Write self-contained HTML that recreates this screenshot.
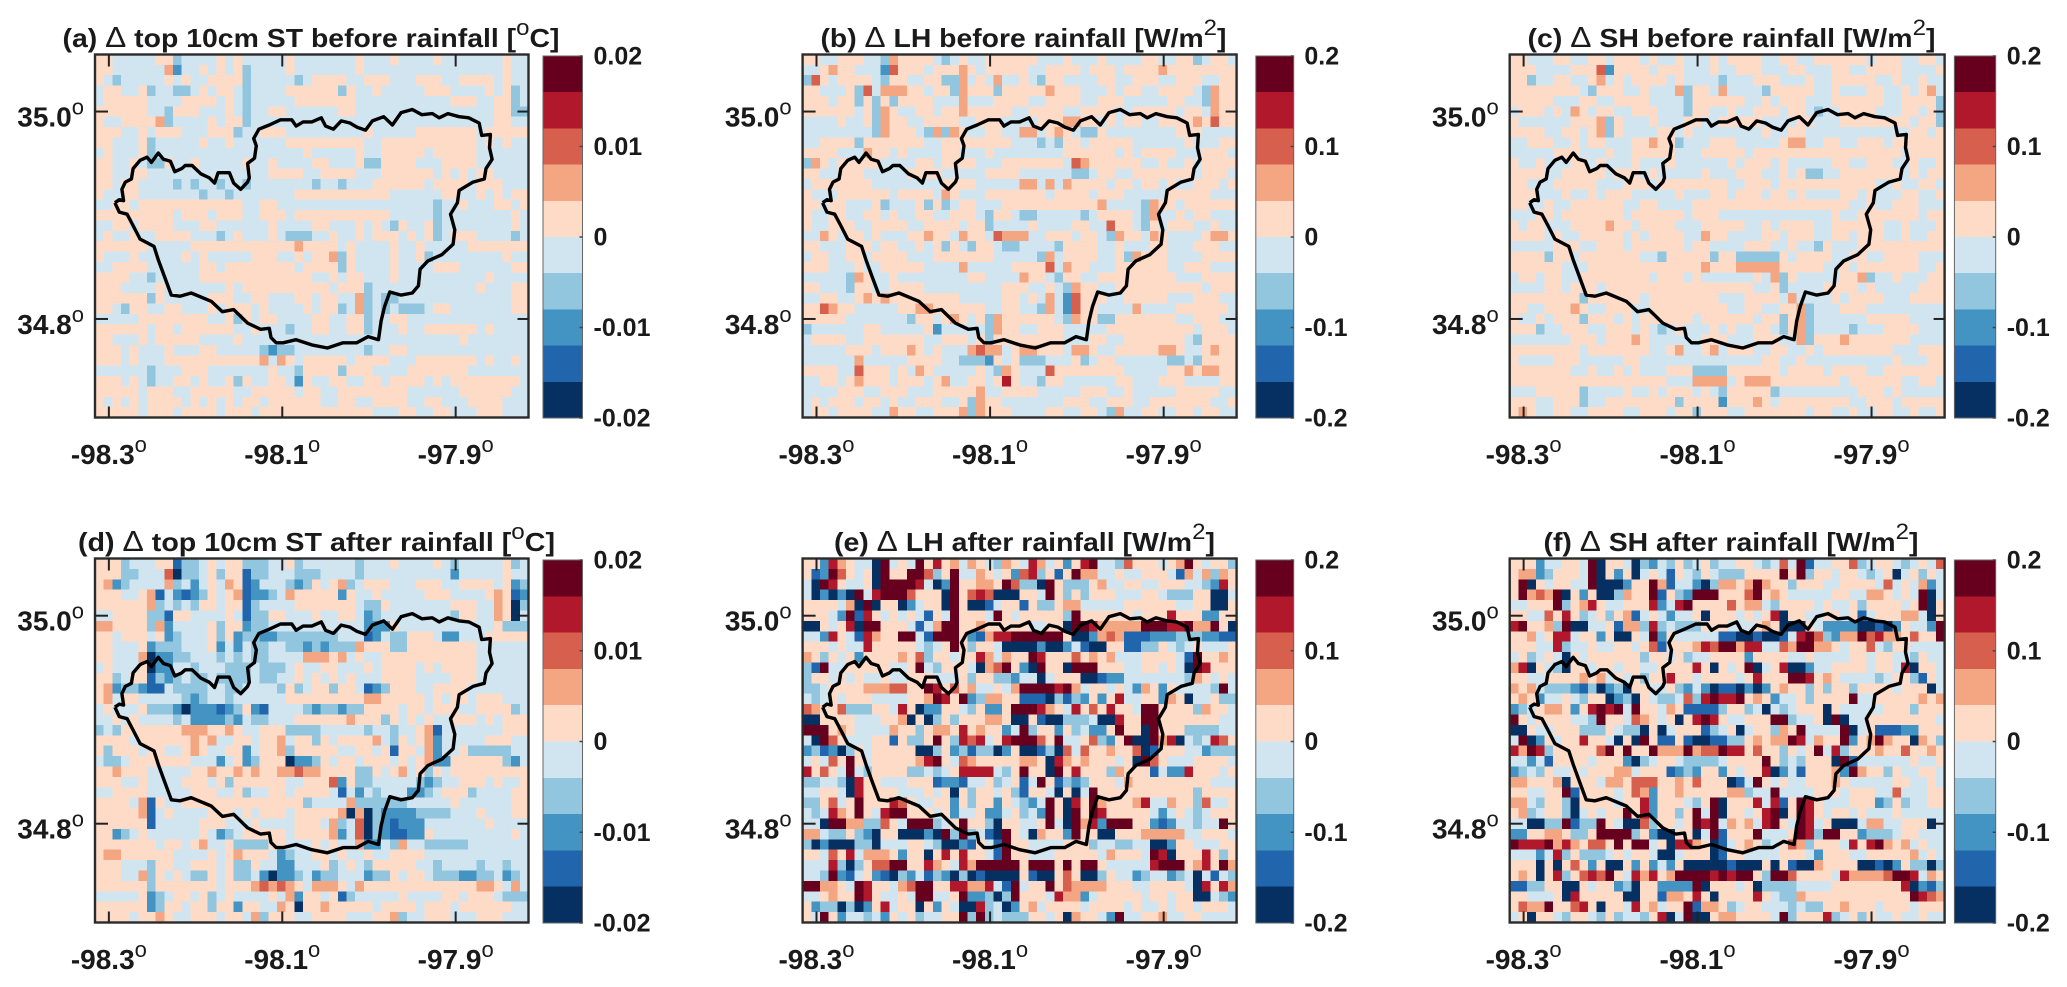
<!DOCTYPE html>
<html lang="en">
<head>
<meta charset="utf-8">
<title>Delta soil temperature and heat flux maps</title>
<style>
html,body{margin:0;padding:0;background:#fff;}
svg{display:block;}
text{font-family:"Liberation Sans",Arial,sans-serif;font-weight:bold;fill:#1a1a1a;}
.title{font-size:26px;}
.tick{font-size:28px;}
.cb{font-size:25px;}
.sup{font-size:22px;font-weight:normal;}
.delta{font-size:29px;font-weight:normal;}
</style>
</head>
<body>
<svg id="figure" xmlns="http://www.w3.org/2000/svg" width="2067" height="987" viewBox="0 0 2067 987">
<rect width="2067" height="987" fill="#fff"/>
<g id="marks"></g>
<text class="title" x="62.5" y="47" textLength="497" lengthAdjust="spacingAndGlyphs">(a) <tspan class="delta">Δ</tspan> top 10cm ST before rainfall [<tspan class="sup" dy="-12">o</tspan><tspan dy="12">C]</tspan></text>
<text class="title" x="820.5" y="47" textLength="406" lengthAdjust="spacingAndGlyphs">(b) <tspan class="delta">Δ</tspan> LH before rainfall [W/m<tspan class="sup" dy="-12">2</tspan><tspan dy="12">]</tspan></text>
<text class="title" x="1527.5" y="47" textLength="408" lengthAdjust="spacingAndGlyphs">(c) <tspan class="delta">Δ</tspan> SH before rainfall  [W/m<tspan class="sup" dy="-12">2</tspan><tspan dy="12">]</tspan></text>
<text class="title" x="78" y="551" textLength="477" lengthAdjust="spacingAndGlyphs">(d) <tspan class="delta">Δ</tspan> top 10cm ST after rainfall  [<tspan class="sup" dy="-12">o</tspan><tspan dy="12">C]</tspan></text>
<text class="title" x="834" y="551" textLength="381" lengthAdjust="spacingAndGlyphs">(e) <tspan class="delta">Δ</tspan> LH after rainfall  [W/m<tspan class="sup" dy="-12">2</tspan><tspan dy="12">]</tspan></text>
<text class="title" x="1543.5" y="551" textLength="375" lengthAdjust="spacingAndGlyphs">(f) <tspan class="delta">Δ</tspan> SH after rainfall [W/m<tspan class="sup" dy="-12">2</tspan><tspan dy="12">]</tspan></text>
</svg>
<script>
// Axis tick labels
const lonTicks = [-98.3, -98.1, -97.9];
const latTicks = [35.0, 34.8];
const stBarLabels = ["0.02", "0.01", "0", "-0.01", "-0.02"];
const fluxBarLabels = ["0.2", "0.1", "0", "-0.1", "-0.2"];
const barLabelValues = [1, 0.5, 0, -0.5, -1];
// Catchment boundary (degrees)
const outlineLon = [-98.293,-98.288,-98.283,-98.285,-98.281,-98.274,-98.272,-98.264,-98.256,-98.251,-98.243,-98.237,-98.229,-98.224,-98.216,-98.212,-98.204,-98.194,-98.184,-98.178,-98.174,-98.161,-98.156,-98.148,-98.140,-98.138,-98.140,-98.132,-98.130,-98.133,-98.127,-98.115,-98.102,-98.089,-98.084,-98.076,-98.066,-98.055,-98.050,-98.041,-98.032,-98.022,-98.014,-98.004,-97.996,-97.983,-97.973,-97.963,-97.950,-97.939,-97.927,-97.919,-97.909,-97.896,-97.885,-97.873,-97.870,-97.860,-97.861,-97.858,-97.865,-97.867,-97.880,-97.896,-97.898,-97.906,-97.901,-97.903,-97.916,-97.932,-97.941,-97.943,-97.950,-97.963,-97.976,-97.982,-97.986,-97.989,-98.001,-98.014,-98.030,-98.048,-98.066,-98.084,-98.099,-98.107,-98.113,-98.115,-98.125,-98.140,-98.156,-98.169,-98.182,-98.205,-98.218,-98.228,-98.236,-98.243,-98.248,-98.264,-98.272,-98.279,-98.288,-98.293];
const outlineLat = [34.912,34.915,34.914,34.925,34.932,34.935,34.945,34.953,34.956,34.951,34.960,34.954,34.952,34.942,34.945,34.948,34.948,34.940,34.936,34.931,34.941,34.941,34.931,34.925,34.932,34.936,34.950,34.955,34.967,34.974,34.983,34.987,34.992,34.992,34.986,34.990,34.990,34.994,34.986,34.983,34.991,34.989,34.985,34.982,34.991,34.995,34.987,34.999,35.002,34.997,34.998,34.994,34.998,34.995,34.994,34.989,34.977,34.978,34.965,34.954,34.945,34.935,34.932,34.924,34.912,34.901,34.886,34.872,34.862,34.856,34.848,34.832,34.825,34.823,34.826,34.812,34.798,34.780,34.783,34.777,34.777,34.772,34.775,34.780,34.777,34.777,34.782,34.791,34.790,34.796,34.809,34.807,34.817,34.825,34.822,34.823,34.841,34.857,34.870,34.877,34.890,34.901,34.903,34.912];
// Cell values as colour-bin index: 0 = lowest bin ... 4,5 either side of zero ... 9 = highest bin
const stBefore = [
[5,5,4,4,4,4,4,5,5,3,4,4,4,4,5,4,5,4,4,4,4,4,5,4,4,4,4,4,4,4,5,4,4,4,5,4,4,4,4,5,4,4,4,4,4,4,4,5,4,4],
[5,5,4,4,4,4,4,4,6,2,4,4,5,4,5,4,5,3,4,4,4,4,5,4,4,4,4,4,4,4,5,4,4,4,4,4,4,4,4,4,4,4,4,4,4,4,4,5,4,4],
[5,4,3,4,4,4,4,4,5,4,5,4,4,5,5,5,5,3,4,4,4,4,4,3,4,5,5,5,5,4,4,5,5,5,4,4,4,5,5,5,4,4,5,5,5,5,4,5,4,4],
[4,5,5,4,4,5,3,4,4,3,3,4,5,4,5,5,4,3,4,4,4,4,5,5,5,5,5,5,3,5,4,4,5,4,4,4,4,4,5,5,5,4,4,4,4,5,4,5,3,4],
[4,5,5,5,5,5,4,4,4,4,5,5,5,5,4,5,4,3,4,4,4,4,4,5,5,5,5,5,5,5,4,4,4,4,4,4,4,4,4,4,4,5,5,5,4,4,5,5,3,4],
[5,5,5,5,5,5,4,4,3,5,5,5,4,4,4,5,4,3,4,4,5,5,4,4,4,4,4,4,5,5,4,4,4,4,4,4,4,4,4,4,4,4,4,4,4,4,5,5,3,3],
[5,4,4,5,5,5,5,6,3,4,4,4,4,5,4,5,5,3,4,4,4,4,4,4,4,4,4,4,4,4,4,4,4,4,4,4,4,4,4,4,4,4,4,4,4,4,5,5,4,4],
[5,5,5,4,4,5,4,5,5,5,4,4,4,5,5,5,3,4,4,5,5,5,4,4,4,4,4,4,4,4,4,5,4,4,4,4,4,5,5,5,5,5,5,5,4,5,5,5,5,5],
[5,5,4,4,4,5,3,4,4,4,4,4,5,4,4,5,4,4,4,4,4,4,5,5,5,5,5,5,5,5,5,4,4,5,5,5,5,5,5,5,5,5,5,5,4,5,4,5,4,4],
[4,5,4,4,4,5,3,4,4,4,4,4,4,4,4,4,4,4,4,4,4,4,4,4,5,4,4,4,4,4,5,4,4,5,5,5,5,5,4,5,5,5,5,5,4,4,4,4,4,4],
[5,5,4,4,5,4,3,3,5,4,4,5,4,4,4,4,4,5,4,4,5,4,4,4,4,5,5,4,4,4,5,3,3,5,5,5,5,4,4,4,5,5,5,5,4,4,4,4,4,4],
[5,5,4,4,5,5,4,4,4,4,4,4,4,4,4,4,4,4,4,4,5,5,5,5,4,4,5,5,5,5,4,4,4,5,5,5,5,5,5,4,5,4,5,4,5,5,4,4,4,4],
[5,5,4,5,5,4,4,4,4,3,4,3,4,4,3,4,4,3,4,4,4,4,4,4,4,3,4,4,3,4,4,4,5,5,5,5,5,5,4,5,5,5,5,4,5,5,5,4,4,4],
[5,4,4,5,5,4,4,4,4,4,4,4,3,4,4,3,4,4,4,4,4,4,4,5,5,5,5,5,5,5,5,5,5,5,4,4,4,4,4,4,5,5,4,4,5,4,5,4,5,5],
[4,4,5,5,4,5,5,5,5,5,5,5,5,5,5,5,5,4,4,5,5,4,4,4,4,4,4,4,4,4,4,4,4,4,4,4,4,4,4,3,4,4,5,4,4,4,5,5,4,5],
[5,5,5,5,5,5,5,5,5,4,5,5,5,4,5,5,5,4,4,5,5,5,4,5,5,5,5,5,5,5,5,5,5,5,4,4,4,4,4,3,4,4,4,4,4,4,4,4,5,4],
[4,4,5,5,4,5,5,5,5,4,4,4,5,5,4,4,4,4,4,4,5,4,4,4,4,5,5,4,4,4,5,4,5,4,3,5,4,4,5,3,4,4,4,4,4,4,4,4,5,4],
[4,5,4,4,5,4,4,5,5,5,5,4,4,4,3,4,5,4,4,4,5,4,3,3,3,4,4,5,4,4,5,4,5,5,5,4,5,4,5,3,4,5,5,5,4,4,4,4,3,4],
[5,5,5,5,5,5,4,4,4,4,4,5,5,5,5,5,5,5,5,5,5,5,5,6,5,5,5,5,4,5,4,4,4,4,5,4,4,5,4,4,4,4,4,5,5,5,5,5,5,5],
[5,4,4,4,5,4,4,4,4,4,5,4,5,4,4,4,4,4,5,5,5,4,4,5,4,5,5,6,3,5,4,4,4,4,5,4,4,5,3,4,4,4,4,4,4,4,4,5,4,4],
[4,4,5,5,5,5,4,4,4,4,4,4,5,5,4,5,5,5,5,5,5,5,5,4,5,5,5,5,3,5,4,4,4,4,5,4,4,4,4,5,5,5,4,4,4,4,4,4,5,5],
[5,5,5,5,4,4,3,4,4,4,4,4,5,5,5,5,5,5,5,5,5,5,5,5,5,4,4,5,4,5,5,4,4,4,5,4,4,4,4,4,4,4,4,4,4,5,4,4,4,4],
[5,5,5,4,4,4,4,5,4,4,4,4,4,4,4,5,4,5,5,5,5,5,5,5,5,5,5,4,5,5,5,3,4,4,4,4,4,4,4,4,4,4,4,4,5,4,4,4,5,5],
[5,5,5,5,5,5,3,5,4,4,4,4,4,5,5,5,4,4,5,5,4,4,4,5,5,4,5,5,4,4,6,3,4,3,3,4,4,4,4,4,4,4,4,4,4,4,4,4,5,5],
[5,5,4,3,5,5,4,4,5,5,4,4,4,5,4,5,5,5,4,5,4,4,4,4,5,4,5,5,3,4,6,3,4,3,4,3,3,3,4,5,5,4,4,4,4,4,4,4,5,5],
[4,4,4,4,4,5,5,5,5,5,5,5,5,4,4,5,3,5,4,5,5,4,4,4,4,5,5,4,4,5,5,3,4,4,5,5,4,4,4,4,4,4,4,4,4,4,4,4,4,4],
[5,5,5,5,5,5,4,5,5,4,5,5,5,5,5,5,4,4,5,4,4,4,3,4,4,5,5,4,4,5,5,3,4,4,4,5,4,4,5,5,5,5,5,5,4,5,4,4,4,4],
[5,5,4,4,4,5,4,5,5,5,5,5,4,4,4,4,5,4,4,4,4,4,4,4,4,4,4,4,4,4,4,4,4,4,4,4,4,4,4,4,4,4,5,4,4,4,4,4,4,4],
[5,5,5,4,5,4,4,4,5,4,4,4,5,5,4,4,4,4,4,3,2,3,3,4,4,4,4,4,4,4,4,3,4,4,5,5,4,4,4,4,4,4,4,4,4,4,4,4,4,4],
[5,5,5,4,5,4,4,4,5,5,5,5,5,5,5,5,5,5,5,6,4,6,5,4,5,5,5,5,5,4,5,5,5,5,4,4,4,5,5,5,5,5,5,5,4,5,4,4,5,4],
[4,4,4,4,4,4,3,4,4,4,5,5,5,4,4,4,4,4,4,4,5,4,4,3,5,5,5,5,3,5,5,5,4,4,4,4,5,5,5,5,5,5,5,4,4,4,4,4,4,4],
[5,5,5,4,5,4,3,4,4,5,5,4,5,4,4,5,3,5,4,4,5,5,4,2,5,4,4,5,5,4,4,5,5,4,5,5,5,5,4,5,4,5,5,5,5,5,5,5,5,4],
[5,5,5,5,5,4,5,5,5,4,4,5,5,5,5,5,4,4,5,5,5,5,5,4,5,5,4,4,5,5,5,5,5,5,5,5,4,4,4,4,4,4,5,5,5,5,5,5,4,4],
[5,4,5,4,5,4,5,5,5,5,4,5,4,5,4,5,4,5,5,4,5,5,5,5,5,5,4,4,5,5,4,4,5,5,5,5,4,4,5,5,4,4,4,5,5,5,5,4,4,4],
[5,5,5,5,5,4,5,5,5,4,5,5,5,5,4,5,5,5,4,5,5,5,5,5,5,5,5,5,5,5,5,5,4,4,4,5,5,4,4,5,5,4,4,4,5,5,5,4,4,4]
];
const lhBefore = [
[5,5,4,4,5,5,5,4,4,3,6,5,5,5,5,4,3,4,5,4,4,5,5,5,5,5,5,4,4,4,5,4,4,4,5,4,4,4,4,5,5,4,4,5,5,3,4,5,5,4],
[4,4,5,6,5,5,4,4,4,2,7,5,5,5,4,5,5,5,6,5,4,5,5,5,5,5,4,4,5,5,5,5,4,5,5,5,4,5,5,5,5,6,5,5,5,5,5,5,5,5],
[3,7,5,4,5,5,5,5,4,3,5,5,4,4,5,5,3,3,6,4,5,4,6,4,4,5,4,3,5,5,4,4,4,4,5,5,4,4,5,5,5,4,4,5,5,5,4,4,5,5],
[5,5,4,4,4,5,3,7,4,6,6,6,5,5,4,5,5,3,6,5,5,5,3,5,5,5,5,5,6,5,5,5,4,4,4,5,4,5,5,4,4,5,5,5,5,4,3,6,5,5],
[5,5,5,4,5,5,3,5,3,5,3,5,5,5,5,4,4,4,6,4,4,4,5,5,5,5,4,4,5,5,5,5,4,4,5,5,5,4,4,4,4,4,5,5,4,4,3,6,5,5],
[5,5,5,5,5,5,4,5,3,6,5,4,4,5,5,4,5,5,6,5,5,5,5,5,4,4,5,5,5,5,4,4,5,5,5,5,4,4,5,5,5,5,5,4,5,5,4,6,5,5],
[4,4,4,4,5,4,4,5,3,6,5,5,4,4,5,5,5,5,4,4,5,5,5,4,4,4,4,5,5,5,6,6,5,5,4,5,4,5,5,4,4,5,5,5,5,6,5,7,5,5],
[4,4,4,4,4,4,4,4,3,6,5,5,5,4,3,6,3,6,5,4,4,5,5,4,4,6,6,4,5,6,5,4,3,3,5,4,4,4,4,4,4,4,4,5,5,5,4,4,4,4],
[4,4,5,5,5,5,3,5,5,5,5,5,5,5,4,4,5,5,5,5,5,5,5,5,4,4,4,3,4,3,5,5,4,5,5,5,5,5,4,4,4,4,4,4,5,4,4,4,5,5],
[5,5,5,5,4,4,4,6,5,5,4,5,4,4,4,4,5,5,4,4,4,5,4,4,4,4,4,4,4,4,5,5,5,5,5,5,4,5,4,5,5,5,5,4,4,4,5,5,5,4],
[3,6,5,4,5,5,5,5,5,4,4,4,4,5,5,4,5,5,5,5,4,4,4,5,5,5,5,5,5,5,4,7,6,5,5,5,5,5,5,4,4,5,4,4,5,4,5,5,5,5],
[5,5,4,4,5,5,5,4,4,4,4,4,5,5,5,5,4,4,4,4,4,5,5,5,5,4,4,4,4,4,4,3,3,4,5,5,4,4,5,5,5,5,5,5,5,4,5,5,5,4],
[4,5,5,5,5,5,5,5,4,4,4,4,4,4,4,4,5,5,5,5,4,4,4,4,4,6,6,4,6,4,6,5,5,5,5,4,5,5,4,5,5,4,5,4,4,5,5,5,4,5],
[5,4,4,4,5,5,5,5,5,5,4,5,5,5,5,4,6,5,4,4,4,5,5,5,5,5,5,5,4,5,5,5,5,4,5,5,5,4,4,4,4,4,5,5,5,5,5,4,4,4],
[5,5,4,5,5,4,4,4,5,3,4,4,4,5,3,5,3,4,5,5,4,4,4,5,5,5,5,5,5,5,5,5,5,5,6,4,4,4,4,3,6,5,5,4,5,5,5,5,5,5],
[5,4,4,5,5,4,4,5,5,4,5,4,4,5,5,4,4,5,5,5,4,3,5,5,4,3,3,4,4,4,4,4,3,4,5,5,5,5,4,3,6,4,4,5,4,5,5,4,4,4],
[5,4,4,5,5,5,4,4,5,5,5,5,4,4,5,5,5,5,4,5,5,3,4,4,4,4,5,4,4,4,4,5,5,4,4,7,5,5,4,3,5,4,5,5,5,4,4,5,4,4],
[4,4,6,5,4,5,5,4,5,4,4,4,5,5,6,5,5,4,6,5,5,4,7,6,6,6,4,4,5,5,5,4,5,5,4,3,6,5,5,4,6,5,4,4,4,4,5,6,6,5],
[5,5,4,4,4,5,5,5,4,5,5,4,4,5,4,5,3,5,4,3,5,5,4,3,3,4,4,4,4,3,5,5,5,5,4,4,5,4,4,4,5,5,4,4,4,5,5,5,4,4],
[4,5,5,4,4,5,5,4,5,5,5,5,4,4,4,5,5,5,5,5,5,5,4,4,4,4,4,3,6,4,5,5,5,5,4,4,5,3,6,5,5,5,4,4,4,4,5,5,5,5],
[5,5,5,4,4,4,5,4,4,5,5,5,5,5,4,4,4,4,6,4,4,4,4,4,5,5,5,5,7,4,6,5,5,4,4,4,5,5,5,5,5,5,4,4,5,5,5,4,4,4],
[4,4,4,4,4,3,6,5,4,4,5,4,4,4,4,4,4,4,4,5,5,4,4,4,4,6,5,5,4,3,5,5,4,4,5,5,5,5,5,5,5,5,5,4,4,4,5,5,5,5],
[5,5,4,4,4,3,5,5,4,4,5,5,5,5,4,4,4,4,4,4,4,4,4,5,5,5,4,4,5,4,3,6,5,5,4,4,5,5,5,5,5,5,5,5,5,5,4,5,5,5],
[4,4,5,5,4,4,5,6,5,6,5,5,5,5,5,5,5,5,4,4,4,4,4,5,5,4,5,4,6,4,2,7,5,5,5,4,4,5,5,5,5,5,4,4,4,5,5,5,4,4],
[5,5,7,6,5,5,4,4,4,4,4,5,5,6,6,5,5,5,5,5,5,4,4,5,5,4,4,3,6,4,2,7,5,5,4,4,4,4,6,4,4,4,4,5,5,5,5,5,5,4],
[5,5,5,5,5,4,4,4,4,4,4,4,3,5,5,4,5,6,5,4,5,3,6,5,5,5,5,5,5,4,3,6,5,5,3,3,5,5,5,5,5,5,5,4,4,5,5,5,4,4],
[3,4,4,4,4,4,4,5,5,4,4,4,4,4,5,2,4,4,4,4,4,3,6,5,5,4,4,5,5,5,4,4,4,4,4,5,5,5,5,5,5,5,5,5,5,4,5,5,5,4],
[4,5,5,5,5,4,4,5,5,5,5,5,5,5,4,4,5,5,5,4,5,3,5,5,5,5,5,5,5,5,4,4,4,5,5,4,4,5,5,5,5,5,5,5,4,3,5,5,5,5],
[4,4,4,4,4,5,5,5,4,5,5,5,6,5,4,5,4,4,4,6,7,6,6,4,5,6,6,5,5,5,4,6,6,5,4,4,5,5,5,5,5,6,6,5,4,4,5,6,5,5],
[4,4,4,4,4,4,6,4,4,4,4,4,5,5,5,5,4,4,3,3,3,2,5,4,5,3,3,3,4,4,4,5,3,4,5,5,4,4,4,4,4,4,3,3,4,3,5,5,5,5],
[5,5,5,5,4,4,7,5,5,5,4,5,4,6,5,4,4,4,4,4,5,4,3,6,5,4,4,4,7,5,5,5,5,5,5,5,5,4,4,4,4,4,5,5,6,5,6,6,5,5],
[4,4,5,5,4,5,6,5,5,5,4,5,5,5,4,5,6,4,4,5,5,4,5,8,5,4,4,3,5,5,4,4,4,4,4,4,5,5,4,4,4,5,5,5,4,4,4,4,5,5],
[4,4,4,4,5,5,5,4,4,5,5,5,4,4,4,5,5,5,5,5,6,4,4,5,5,5,5,4,4,4,4,4,5,5,5,4,4,5,4,4,4,4,4,5,5,5,5,5,4,4],
[4,5,4,5,5,5,4,5,5,4,5,4,4,5,5,5,4,4,5,3,6,5,5,4,4,4,4,4,4,4,5,5,5,4,4,5,5,5,4,4,5,5,5,5,5,5,5,4,4,5],
[4,5,5,4,5,5,5,5,4,4,6,5,5,4,4,5,5,5,6,3,6,5,5,5,4,4,4,4,5,5,4,4,5,5,4,3,6,4,4,5,5,4,4,5,5,4,5,5,4,4]
];
const shBefore = [
[5,5,4,4,4,5,5,4,4,5,5,4,5,5,5,4,5,4,4,5,4,4,4,5,4,5,5,5,5,4,4,5,5,4,4,5,5,5,5,5,5,4,5,5,5,4,4,5,5,4],
[5,5,5,4,4,4,4,5,5,5,7,2,5,5,5,5,4,5,5,5,4,4,4,5,4,4,5,5,5,4,4,4,5,5,4,4,4,5,5,4,4,5,5,5,5,4,4,4,4,5],
[5,5,3,4,4,5,5,4,4,5,6,4,5,4,5,5,5,5,4,5,4,4,4,4,3,4,4,4,5,5,5,4,4,4,5,4,4,5,5,5,5,5,4,4,5,4,4,5,4,4],
[5,5,5,5,5,5,5,5,4,3,5,5,5,4,4,5,4,4,4,6,3,5,5,4,6,4,4,4,4,3,5,5,5,5,5,4,4,5,4,4,4,5,5,4,4,5,4,5,6,4],
[5,5,5,5,5,4,4,4,5,5,4,4,5,5,5,5,4,4,4,4,3,5,5,5,5,5,5,4,4,5,4,5,5,5,4,4,4,5,5,5,5,5,5,4,4,5,5,5,5,3],
[4,5,5,5,4,5,4,6,5,4,5,5,4,4,5,5,5,4,4,4,3,5,5,4,4,5,4,4,5,5,5,4,5,5,4,3,4,4,5,5,5,5,4,4,4,5,5,4,5,3],
[5,4,4,4,4,4,4,5,5,5,6,3,5,4,4,4,5,4,4,4,5,5,4,4,5,5,5,5,5,4,4,4,4,5,5,4,4,4,5,5,5,5,5,5,5,5,4,5,5,3],
[5,5,5,5,4,4,5,5,4,5,6,3,5,4,4,4,4,5,5,4,5,4,4,4,4,4,4,4,4,5,4,4,5,5,4,4,4,4,4,4,4,4,4,4,4,4,5,5,4,5],
[4,4,5,5,5,4,4,5,4,5,5,4,4,4,5,5,6,5,5,3,4,4,4,5,5,5,4,4,4,4,4,5,6,6,4,4,5,5,4,4,5,5,5,4,5,5,5,5,5,5],
[4,4,4,4,4,5,5,5,4,4,4,5,4,4,5,5,5,5,5,4,4,4,5,5,5,5,5,4,5,5,5,5,5,5,5,5,5,5,5,5,5,5,5,5,5,4,5,5,5,5],
[5,4,4,5,4,4,4,5,5,4,5,4,4,4,5,4,4,4,5,4,4,4,4,4,4,5,4,5,5,5,4,5,4,4,4,4,4,5,5,4,4,5,5,5,4,4,5,4,4,5],
[5,5,5,5,4,4,5,5,5,5,5,4,5,5,5,4,5,4,4,4,4,4,5,4,4,4,5,5,5,4,4,5,4,5,3,3,4,4,5,5,5,5,5,5,5,4,5,4,5,5],
[5,5,4,4,4,5,5,5,5,5,4,4,4,5,5,5,4,5,5,5,5,5,5,5,5,4,4,5,5,5,4,5,5,5,5,5,5,5,5,5,5,5,4,4,5,4,4,5,5,4],
[5,5,5,4,4,4,5,4,4,5,4,5,5,5,4,4,4,4,4,5,4,4,4,5,5,4,5,5,5,4,5,5,4,5,4,4,4,4,5,5,4,5,4,4,4,5,5,4,4,5],
[5,5,4,4,5,4,4,5,5,5,5,5,5,4,4,5,5,4,4,4,4,5,5,5,5,5,5,5,5,5,5,5,5,5,5,5,5,5,5,4,4,5,4,4,5,5,5,4,4,4],
[4,4,4,5,5,4,5,5,5,5,5,5,5,4,5,5,5,5,5,5,4,5,5,5,4,4,4,4,4,4,4,4,4,4,4,4,4,5,4,4,5,5,5,5,5,5,5,4,5,5],
[5,4,5,5,4,4,4,5,5,5,5,6,5,5,4,5,5,5,5,4,4,4,5,5,5,5,5,4,4,5,4,5,5,5,5,4,4,5,5,5,5,5,5,4,4,5,4,4,4,5],
[5,5,5,5,4,5,4,4,5,5,5,5,5,4,5,4,5,5,5,5,4,4,6,5,5,4,4,4,4,5,5,4,5,5,5,4,4,5,5,4,5,5,5,4,4,5,4,4,5,5],
[4,4,4,4,4,5,5,5,4,4,5,5,5,4,5,5,5,5,5,5,4,5,5,4,4,4,4,5,5,5,4,4,5,4,4,3,5,4,4,4,5,5,5,5,5,5,5,5,5,5],
[5,5,5,5,3,5,5,4,5,5,5,5,5,5,5,4,4,3,5,5,5,5,5,3,5,5,3,3,3,3,3,5,4,5,5,5,5,4,4,5,5,4,4,5,5,5,5,4,4,4],
[5,5,5,5,5,5,4,4,4,5,5,5,5,5,5,5,5,5,5,5,5,5,6,5,5,5,6,6,6,6,6,5,5,5,5,5,4,4,5,4,5,5,5,5,5,5,5,4,4,5],
[4,5,5,4,5,5,4,4,5,5,5,5,5,5,5,5,4,5,5,5,4,5,4,4,4,4,4,4,5,4,6,3,5,4,4,4,4,4,5,5,6,3,4,4,5,4,4,4,5,5],
[4,4,4,4,5,5,4,5,5,5,4,5,5,5,5,5,5,5,5,5,5,5,5,5,5,5,5,5,4,4,5,3,4,4,4,4,5,5,5,5,4,5,4,4,4,4,4,5,5,5],
[5,5,5,5,5,5,5,5,3,5,5,5,5,5,5,4,5,5,5,5,5,5,5,5,4,4,4,5,5,5,5,4,6,4,4,4,4,5,4,5,5,5,5,4,4,4,5,5,5,5],
[5,5,4,4,5,5,5,6,5,4,4,5,5,5,4,4,5,5,5,5,5,5,5,5,5,4,4,5,5,4,4,5,5,6,3,4,4,4,5,5,5,4,4,4,4,4,4,4,4,4],
[5,4,4,5,4,5,5,5,3,5,5,5,4,5,4,5,5,5,5,5,5,4,5,5,5,5,5,5,4,5,5,3,5,6,3,4,4,4,4,4,4,5,5,5,5,5,4,4,4,4],
[5,5,5,3,4,4,5,5,5,4,4,5,5,5,4,5,4,3,4,5,4,4,4,5,4,5,4,4,5,5,4,3,5,6,3,4,4,4,4,3,4,4,4,5,5,5,5,4,4,4],
[4,4,4,4,4,4,4,5,5,5,4,5,5,5,6,5,4,4,4,4,4,4,5,5,5,4,4,4,5,5,5,4,4,6,3,5,5,5,6,5,5,5,5,5,5,5,4,4,4,4],
[5,5,5,5,5,5,5,5,4,5,5,5,5,5,5,5,4,4,5,6,4,4,5,6,4,5,5,5,4,4,5,5,4,4,5,4,5,5,5,5,5,5,5,5,4,4,4,5,5,5],
[5,4,4,4,4,5,5,5,4,4,4,4,4,5,5,4,4,4,4,4,4,4,4,4,4,4,4,4,4,5,5,4,4,5,4,4,4,4,4,4,4,4,4,4,5,4,4,4,5,5],
[5,5,5,5,5,5,5,4,4,5,4,4,5,4,5,4,4,4,5,5,5,3,3,3,3,5,5,5,5,5,5,4,5,5,5,5,4,5,5,5,5,4,4,5,5,5,5,5,5,5],
[5,5,5,5,5,5,5,5,5,5,5,5,5,5,5,5,5,5,4,4,4,6,6,6,6,4,5,6,6,6,5,5,5,5,5,5,5,5,4,5,5,5,5,5,5,4,4,5,5,4],
[4,4,4,5,5,5,5,5,3,4,4,4,4,5,4,4,5,4,5,5,5,4,5,4,3,5,5,5,5,5,3,4,4,4,4,4,4,4,4,4,5,5,5,4,5,4,4,4,4,4],
[5,5,5,4,4,5,5,5,3,4,4,5,5,5,5,5,5,5,5,3,5,5,5,5,2,5,5,5,6,5,4,5,5,5,5,5,5,5,5,4,4,5,5,5,4,5,5,5,5,5],
[5,6,5,4,4,5,5,4,4,5,5,5,5,4,4,5,5,5,4,5,5,3,5,5,5,4,4,5,5,5,5,5,5,5,4,5,5,4,4,5,4,4,5,5,4,4,5,4,4,5]
];
const stAfter = [
[5,5,5,3,4,4,4,5,5,1,3,3,4,5,4,5,5,3,3,3,4,4,5,3,4,4,4,4,4,4,3,4,4,4,5,4,4,4,4,5,4,3,4,4,4,4,4,5,3,4],
[5,5,5,3,3,4,4,4,7,0,3,3,4,5,3,5,5,1,3,3,4,4,4,3,3,3,4,4,4,4,3,4,4,4,4,4,4,4,4,4,4,2,4,4,4,4,4,5,4,4],
[5,6,2,3,4,4,4,4,6,3,4,2,4,5,4,6,5,1,2,4,4,4,3,2,3,5,4,5,6,3,4,5,5,5,4,4,4,5,5,5,4,4,5,5,5,5,4,5,2,3],
[5,5,5,4,4,5,6,1,4,2,1,2,3,5,4,5,6,1,2,2,3,4,6,5,5,5,5,5,2,5,4,4,5,4,4,4,4,4,5,5,5,4,4,4,4,5,6,5,1,2],
[5,5,5,5,5,5,6,3,4,3,4,3,5,5,4,5,5,1,3,4,4,4,4,5,5,5,5,5,5,5,4,3,3,5,4,4,4,4,4,4,4,5,5,5,4,4,6,5,0,3],
[4,4,5,5,5,5,3,3,1,5,5,4,4,4,4,5,4,1,3,3,5,5,4,4,4,5,4,4,5,5,4,2,3,4,4,4,4,4,4,4,4,3,5,5,4,4,6,5,0,4],
[6,6,5,5,5,5,3,6,2,4,4,4,4,5,3,5,5,2,3,3,4,4,4,4,4,4,4,4,4,4,4,2,2,2,5,4,4,4,4,4,4,4,4,4,4,4,5,3,3,3],
[5,5,4,5,5,5,4,5,2,3,4,4,4,5,3,5,2,3,3,2,2,3,3,3,3,3,3,3,4,4,4,1,2,4,3,3,5,5,5,4,2,2,4,4,4,5,5,5,5,5],
[5,5,4,4,4,5,2,3,3,3,4,4,4,5,2,4,2,4,3,3,4,4,3,3,2,3,2,3,3,3,6,5,5,5,3,3,5,5,5,5,5,5,5,5,4,4,4,4,4,4],
[5,5,4,4,4,6,0,2,2,3,3,4,4,4,3,4,3,4,3,3,4,4,4,4,6,6,6,5,6,4,5,4,4,5,5,5,5,5,5,5,5,5,5,5,4,4,4,4,4,4],
[4,5,4,4,4,5,0,2,2,4,4,3,4,4,4,3,3,3,4,3,3,3,4,5,4,4,5,5,4,4,4,5,4,5,5,5,5,4,5,4,5,5,5,5,4,4,4,4,4,4],
[5,5,3,4,5,5,1,3,2,3,4,3,3,4,3,3,3,3,4,3,3,4,4,5,4,5,4,5,4,5,4,4,4,5,5,5,5,4,4,4,4,5,5,5,4,4,4,4,4,4],
[5,6,2,3,3,2,1,1,4,3,3,3,3,4,4,3,3,4,4,4,4,3,5,3,4,5,5,3,5,5,4,1,2,3,5,5,5,4,4,5,5,5,5,4,4,4,4,4,4,4],
[5,6,4,5,5,4,4,4,4,4,3,2,3,4,4,3,4,4,4,4,4,4,5,5,5,5,5,5,5,5,5,6,6,5,5,5,5,5,4,5,4,5,5,4,5,5,5,4,4,4],
[4,5,4,4,4,5,3,3,3,2,0,2,2,2,1,2,3,5,2,1,4,4,4,4,3,2,3,3,2,3,3,5,5,5,5,4,5,5,4,5,5,5,4,4,5,5,5,5,3,4],
[4,4,5,4,5,4,4,4,4,3,4,2,2,2,2,3,2,4,3,3,4,4,4,5,5,5,5,5,5,6,5,5,5,3,5,4,5,4,5,4,4,5,5,5,4,5,4,5,5,5],
[3,4,3,5,5,5,5,5,5,5,6,6,6,5,5,6,5,4,4,5,5,5,3,3,3,3,4,4,4,4,4,3,4,4,3,4,4,5,6,1,4,4,4,4,4,4,4,5,5,5],
[5,5,5,5,4,5,5,5,5,5,5,6,5,6,4,4,5,5,4,5,5,6,4,5,5,3,5,4,5,5,5,5,6,4,3,5,4,5,6,2,4,4,4,4,4,5,5,5,4,4],
[5,3,5,5,5,4,5,5,4,4,5,6,5,4,4,5,5,2,4,5,5,6,3,5,5,5,5,5,4,4,5,5,4,5,1,5,5,4,6,2,4,4,5,3,3,3,3,3,4,4],
[4,3,3,4,5,5,5,5,5,5,5,4,4,4,2,4,5,2,3,5,5,5,0,2,2,3,5,4,5,5,4,5,5,5,4,5,4,5,6,2,2,5,5,5,5,5,5,3,2,4],
[5,5,6,5,5,5,4,4,4,4,4,5,5,6,5,5,6,5,6,5,5,6,6,7,6,6,5,5,5,5,3,3,5,4,5,6,4,5,3,5,4,5,5,5,5,5,5,5,5,5],
[5,5,5,4,4,5,4,4,4,4,5,5,5,4,5,3,5,5,5,5,5,5,4,4,5,5,5,7,2,5,3,3,4,4,4,4,4,3,2,3,4,4,5,5,5,4,5,4,4,5],
[4,4,5,5,5,5,4,4,4,4,4,5,5,5,4,4,5,3,4,4,5,5,4,5,5,5,5,4,1,4,2,4,3,4,4,4,2,2,3,4,5,5,5,3,4,4,4,4,5,5],
[5,5,5,5,4,6,1,5,4,4,5,5,5,5,5,5,5,5,5,5,5,5,5,5,3,4,4,4,4,6,3,3,3,3,3,3,4,4,4,4,4,5,4,4,4,4,4,4,5,5],
[5,5,5,5,5,6,1,4,5,4,4,4,4,5,5,5,4,5,4,5,5,5,4,5,5,5,5,5,6,0,6,0,3,2,2,2,2,3,3,3,3,4,4,4,5,4,4,4,5,5],
[5,5,5,5,5,5,1,4,4,4,4,4,5,5,5,4,4,4,5,4,4,4,4,5,5,5,4,6,3,4,7,0,3,2,1,2,2,2,4,4,4,4,4,4,4,5,4,4,4,4],
[5,5,2,3,4,5,4,4,4,4,4,4,5,4,2,3,4,5,5,5,5,5,4,5,5,5,5,6,2,4,7,0,3,2,1,1,2,2,5,4,4,4,4,4,4,4,4,4,5,4],
[5,5,5,5,5,5,5,4,5,5,4,5,6,4,4,5,3,3,3,3,5,5,4,4,4,5,4,5,4,4,6,2,2,4,3,6,4,4,3,3,3,3,3,4,4,4,4,4,4,4],
[5,6,6,5,5,5,5,5,5,4,4,4,4,5,4,5,6,5,5,5,4,2,3,4,4,5,5,4,5,4,4,5,4,4,5,5,5,5,4,4,4,4,4,4,4,4,4,4,4,4],
[5,5,5,4,4,4,3,5,5,4,4,5,5,5,4,5,3,3,5,4,4,2,2,4,4,4,5,3,4,5,4,3,5,5,5,5,5,4,4,3,4,4,4,4,3,4,4,3,4,4],
[5,5,5,4,4,6,3,5,4,5,4,3,3,5,4,5,3,3,4,2,0,2,2,3,4,2,3,3,4,4,4,2,3,3,5,4,5,5,4,3,3,3,2,2,3,3,4,2,3,4],
[5,5,5,5,5,5,3,5,5,5,5,5,5,5,4,5,5,5,6,7,6,7,6,5,4,6,6,6,5,4,6,5,5,5,5,5,5,5,5,5,5,5,5,5,6,6,5,4,6,4],
[4,4,4,4,4,5,2,3,4,5,5,4,5,3,4,5,4,4,4,4,5,4,6,2,5,5,4,5,1,3,4,4,4,4,4,5,4,4,4,4,5,5,4,5,5,5,4,3,3,3],
[5,5,5,5,5,5,2,3,5,5,4,5,5,3,5,5,2,5,5,4,4,6,5,0,5,5,6,5,5,5,5,5,4,5,5,5,5,4,5,5,5,4,5,5,5,5,5,5,4,4],
[5,5,5,5,4,5,5,6,5,4,4,5,5,5,4,5,5,4,6,3,5,5,5,4,4,5,5,5,5,4,4,4,5,5,6,3,4,4,5,5,5,4,4,4,5,5,5,4,4,4]
];
const lhAfter = [
[5,5,2,8,6,5,4,4,0,9,4,5,4,9,5,8,5,6,4,6,5,4,3,6,5,4,8,6,4,5,2,5,8,9,4,4,3,7,5,5,5,4,5,6,9,5,4,5,5,3],
[5,1,2,9,7,5,4,5,0,9,5,5,9,9,7,3,5,9,4,4,6,5,4,5,2,7,8,3,5,1,5,9,6,6,4,4,5,4,4,5,5,5,4,1,6,4,6,3,6,5],
[4,0,9,8,5,4,4,5,0,9,9,9,9,8,4,0,2,9,5,5,6,6,5,9,7,3,3,0,9,5,3,3,3,5,6,4,4,5,5,4,4,5,5,5,4,4,3,2,8,5],
[4,0,2,0,2,0,9,4,8,9,9,9,7,5,5,5,0,9,5,7,8,7,0,0,0,5,5,4,9,5,3,5,3,5,5,5,4,4,4,5,5,4,3,3,3,5,5,0,0,4],
[5,5,5,5,4,6,0,9,0,5,5,0,2,4,5,5,0,9,5,0,0,1,4,5,5,1,5,3,3,5,6,6,4,4,4,4,4,5,5,5,5,5,5,4,4,5,5,0,0,5],
[5,5,5,4,2,9,1,8,5,4,5,4,5,4,1,5,4,9,5,5,5,4,9,5,4,5,5,5,5,5,3,9,5,5,5,5,5,5,4,5,5,5,8,5,5,5,2,2,5,5],
[0,0,5,4,5,8,0,9,9,5,5,5,4,1,4,6,9,9,5,5,6,5,5,5,5,5,4,4,5,5,0,9,9,8,6,6,6,6,6,9,9,9,8,8,9,6,6,9,5,0],
[4,4,2,8,5,4,1,8,6,5,5,9,9,4,1,9,9,9,5,2,1,6,8,8,9,9,9,9,9,9,5,0,0,2,6,7,6,1,1,1,2,2,2,3,3,3,2,2,1,1],
[5,5,5,4,5,4,4,8,5,5,5,5,5,4,3,4,5,9,5,3,5,5,4,0,0,0,0,2,0,0,2,4,1,0,0,5,5,1,1,3,3,5,4,3,4,5,4,4,4,5],
[6,5,3,5,4,5,2,5,5,5,5,6,5,7,3,5,5,4,5,5,8,6,4,6,5,5,9,8,5,5,5,7,5,6,5,6,4,4,4,5,5,5,5,4,1,9,5,5,6,5],
[3,1,9,4,4,5,5,5,5,5,4,4,5,9,4,3,5,5,5,4,0,6,7,9,5,2,0,9,5,5,0,9,9,9,5,5,5,4,4,5,5,4,5,4,0,9,8,5,5,5],
[3,5,5,4,5,4,5,4,4,5,4,4,5,5,5,4,4,4,5,3,5,5,3,3,2,4,4,0,4,5,5,5,0,0,1,2,2,4,4,4,4,4,4,4,3,6,5,4,5,4],
[3,3,4,5,5,5,5,6,6,6,7,7,5,5,9,8,5,7,5,6,4,4,5,4,6,9,9,9,9,8,9,6,4,5,5,4,5,4,2,6,5,2,5,4,4,4,4,3,9,4],
[4,3,4,5,4,5,5,5,4,4,4,4,5,5,6,9,8,5,9,2,3,6,6,5,5,1,1,1,0,3,1,3,2,5,2,5,8,4,4,5,5,2,6,5,0,4,4,5,3,3],
[7,6,5,5,7,3,3,3,5,5,4,8,5,0,2,2,5,5,4,3,5,2,2,5,9,9,9,8,6,5,4,8,5,7,5,8,5,5,4,9,9,5,5,5,5,3,6,5,5,4],
[0,0,5,5,5,5,4,4,4,5,5,6,0,5,0,3,5,3,5,5,5,6,6,5,0,0,5,1,0,0,3,3,3,4,0,0,8,5,5,9,9,5,5,5,5,5,5,5,4,4],
[9,9,9,5,6,5,4,4,4,4,6,5,5,3,5,6,6,5,8,5,6,5,5,2,4,9,3,5,5,2,5,3,4,2,2,5,9,5,5,0,9,5,5,5,3,3,3,3,4,4],
[4,0,9,7,5,4,4,4,5,5,1,5,3,3,5,9,5,3,8,7,8,4,5,8,9,9,9,7,5,9,4,4,5,7,3,2,5,9,0,0,9,6,8,0,4,3,4,8,7,5],
[2,3,1,2,0,3,5,4,5,5,5,5,5,0,0,3,5,2,3,1,3,3,0,2,5,0,0,1,3,0,7,4,7,5,5,6,5,5,7,0,1,5,5,5,4,4,2,3,3,3],
[4,5,4,7,5,9,5,4,5,5,5,5,5,6,8,9,5,4,7,6,5,5,5,5,5,6,6,5,0,8,6,5,6,5,5,5,4,5,0,9,7,5,4,4,4,5,5,5,5,4],
[8,5,7,5,4,9,4,3,5,5,5,5,3,3,4,3,4,5,8,8,8,8,4,3,5,9,5,5,0,9,5,8,5,5,5,3,6,5,5,5,1,4,2,2,8,5,5,5,4,5],
[3,3,4,4,3,0,8,5,5,4,4,4,5,5,5,1,2,2,1,4,4,5,3,4,5,1,4,9,5,1,3,2,3,5,5,5,4,6,5,5,5,5,5,5,5,5,5,4,4,4],
[4,4,5,5,4,0,8,5,5,5,5,4,4,4,5,4,5,0,5,3,5,5,4,5,3,1,5,5,4,0,5,0,4,9,5,5,5,5,5,5,5,5,5,5,5,3,5,5,5,5],
[3,3,5,7,4,5,9,5,5,5,8,7,5,4,4,5,5,2,5,3,5,5,2,5,4,3,2,4,9,5,0,8,5,9,6,5,5,5,6,8,4,4,6,5,5,3,7,4,4,5],
[4,3,4,8,6,5,9,5,4,8,9,9,5,5,5,4,5,2,4,4,5,2,2,4,5,3,4,2,9,5,0,9,5,9,8,5,5,5,5,5,4,2,4,5,4,3,4,5,5,5],
[4,4,0,9,9,6,6,3,3,7,5,4,9,9,9,3,4,5,9,5,5,3,0,5,5,4,4,5,9,4,0,9,6,8,2,9,9,9,5,5,2,1,2,4,4,3,4,4,9,5],
[6,6,4,3,3,5,3,2,0,5,5,0,0,0,2,0,9,3,9,3,4,1,0,9,5,4,0,6,5,5,2,9,5,5,0,0,5,5,5,6,6,6,6,6,4,4,5,5,5,4],
[3,0,2,0,0,0,3,3,0,4,4,4,5,5,4,3,0,0,2,1,5,4,1,9,5,5,4,4,4,4,5,5,5,3,4,4,3,3,4,4,0,0,2,5,5,4,4,4,5,5],
[5,5,4,7,5,8,4,6,6,6,5,2,5,5,0,5,8,5,8,5,5,4,1,9,5,5,4,4,4,5,5,5,5,5,4,6,5,5,5,4,9,8,0,5,5,5,8,5,3,5],
[4,4,4,8,3,0,3,5,7,7,9,9,5,5,8,6,5,4,8,6,9,9,9,9,9,5,9,9,9,5,9,5,9,9,5,4,4,4,4,4,8,9,9,9,5,6,8,5,9,6],
[4,4,3,9,2,1,4,5,2,1,0,3,2,4,1,3,2,0,3,0,1,0,0,0,0,5,1,0,0,5,7,5,0,0,3,5,4,4,2,3,4,4,2,3,4,0,4,1,4,3],
[9,9,6,6,5,4,9,8,5,5,4,6,7,9,9,5,5,8,8,6,6,8,4,1,9,4,5,5,9,5,7,6,6,6,6,5,5,5,4,4,5,5,5,5,4,0,8,5,8,6],
[4,4,5,6,5,5,9,8,5,4,4,5,4,9,9,4,4,5,9,2,2,3,0,3,9,5,5,5,4,8,6,6,2,4,5,5,5,5,5,4,5,5,4,5,5,0,0,4,3,2],
[5,2,3,3,0,3,0,2,5,8,4,5,5,0,5,2,5,4,0,0,8,3,4,0,2,5,6,4,5,5,5,5,4,5,5,5,5,4,5,4,4,5,4,5,5,4,5,5,5,4],
[5,4,9,5,2,4,4,3,4,2,5,4,5,3,4,4,5,5,9,3,9,3,4,3,3,3,5,5,4,5,0,6,5,5,4,2,9,4,4,5,5,6,4,4,5,5,4,4,4,4]
];
const shAfter = [
[5,5,5,2,4,4,5,5,4,9,0,5,5,4,0,3,2,4,3,5,3,4,5,3,4,4,5,5,4,3,4,7,4,9,1,4,4,5,5,7,3,4,5,5,4,3,4,5,4,7],
[5,6,6,2,3,5,5,5,4,9,0,5,2,5,0,4,5,4,1,5,4,3,5,4,3,3,3,5,5,5,5,9,5,9,3,5,5,4,5,5,4,3,4,5,0,4,5,3,5,4],
[5,9,0,5,4,5,5,4,4,9,0,0,0,2,5,5,9,6,1,4,4,2,0,3,6,6,5,6,9,6,5,5,3,5,5,5,4,4,5,5,5,5,4,7,4,5,4,6,2,4],
[5,9,6,7,6,9,0,5,2,5,0,0,3,6,5,5,9,1,5,3,2,9,9,9,5,5,5,7,9,5,6,5,4,4,4,4,4,5,5,4,4,6,6,5,4,5,4,9,0,4],
[4,4,5,5,5,9,3,5,6,8,5,4,4,5,5,5,8,2,4,8,9,5,5,5,5,7,5,6,6,4,3,5,5,5,5,4,5,4,4,5,3,5,5,5,5,4,5,9,0,5],
[5,5,4,4,7,5,8,5,3,4,5,3,5,6,1,4,5,4,2,4,4,5,0,5,5,5,4,5,4,5,8,0,5,5,4,4,5,5,4,5,1,4,5,5,5,6,6,4,0,5],
[8,9,5,5,6,3,9,0,0,4,4,5,1,6,6,3,8,3,4,3,3,3,5,5,5,4,4,4,5,6,5,0,0,0,5,4,2,2,2,2,0,0,1,0,2,5,4,4,2,9],
[5,5,6,4,5,8,8,4,5,5,2,5,0,0,5,4,9,2,5,4,4,4,4,4,1,1,0,0,1,0,0,1,4,8,9,7,3,2,6,6,9,7,8,6,6,5,7,5,5,9],
[5,5,5,4,4,8,3,4,4,5,4,4,5,5,4,5,7,1,5,5,5,6,8,7,9,9,6,8,8,4,4,7,6,9,9,6,6,5,4,5,5,7,4,3,5,5,4,4,4,4],
[4,5,3,4,5,4,0,5,4,5,5,5,5,5,5,3,5,5,4,5,3,4,4,5,5,5,5,2,5,5,5,5,4,4,5,4,4,4,4,5,5,4,5,5,4,4,3,5,4,4],
[6,8,0,5,4,3,0,5,5,4,5,5,4,5,5,4,4,5,5,5,5,8,5,0,5,4,5,9,0,4,5,8,0,0,2,4,4,5,5,5,5,4,5,5,4,8,0,5,5,4],
[5,5,4,4,5,5,5,5,6,5,6,4,5,4,5,3,5,5,8,5,5,4,5,5,5,5,4,5,8,5,5,5,9,9,8,5,6,5,4,4,4,4,3,4,5,5,3,1,5,4],
[6,5,6,4,3,3,3,2,1,3,0,2,3,0,5,5,4,4,5,3,2,4,2,0,1,1,0,2,0,2,5,6,5,5,3,5,3,5,5,3,5,5,5,5,4,5,5,5,0,4],
[5,6,5,2,4,4,5,4,3,5,5,0,2,3,0,5,4,3,3,4,7,3,8,9,8,8,9,5,6,5,2,4,4,5,3,5,5,5,5,9,4,4,5,5,5,5,5,6,5,6],
[2,3,4,5,6,6,5,2,5,8,9,8,9,4,9,5,5,4,6,5,1,1,1,1,3,5,5,3,4,0,4,3,4,5,5,5,0,5,4,4,4,4,4,5,5,5,3,5,5,5],
[9,5,4,5,5,5,5,4,4,3,9,5,5,4,7,6,5,4,5,0,5,8,9,8,5,4,4,5,5,5,9,9,3,4,4,5,0,9,0,4,4,5,5,5,5,5,5,5,5,4],
[0,0,5,4,4,5,5,5,3,3,3,5,4,3,3,0,5,0,4,5,5,5,1,3,4,5,0,4,5,5,3,6,5,9,4,4,4,4,9,0,4,5,1,1,1,2,2,5,5,5],
[4,9,0,2,5,4,5,5,8,5,5,4,0,5,0,9,5,1,1,5,1,0,0,1,1,3,3,5,6,5,6,6,9,8,4,6,5,5,9,2,5,6,9,6,5,5,0,6,5,3],
[8,6,9,8,3,5,5,5,5,5,7,9,5,9,5,5,9,6,6,6,9,6,7,7,9,8,8,5,7,5,5,3,5,4,5,9,4,8,3,5,5,5,6,5,5,7,5,5,6,5],
[4,4,2,4,1,5,5,5,5,4,5,5,5,2,0,3,4,5,5,4,3,3,3,3,4,5,5,5,5,9,5,3,4,3,5,5,5,0,9,1,4,4,4,4,4,4,5,4,4,5],
[2,3,4,3,5,4,4,5,4,5,5,5,6,6,4,5,5,5,1,2,3,2,5,5,2,5,4,5,5,8,0,2,4,1,5,5,5,6,2,9,6,5,5,3,5,4,4,5,5,4],
[6,6,5,5,5,6,0,5,5,5,4,6,6,5,7,7,7,5,5,6,5,7,5,5,5,0,1,4,9,5,4,5,4,4,5,5,5,6,5,4,4,4,4,4,5,5,4,4,5,4],
[5,5,4,4,5,5,9,1,5,5,5,5,4,5,7,6,2,5,5,6,5,5,5,5,5,6,6,3,4,4,9,4,4,4,4,5,5,5,4,5,5,5,4,4,7,4,4,4,5,5],
[6,6,4,3,5,5,3,0,5,5,5,5,4,5,5,8,2,5,5,5,4,3,5,9,0,5,5,5,8,4,8,1,5,9,8,5,4,4,4,5,5,5,2,3,5,3,4,4,5,5],
[5,6,3,4,5,5,3,0,4,5,4,5,5,9,5,8,2,5,5,3,5,9,4,9,0,5,5,4,5,8,9,0,5,9,8,5,4,5,5,4,5,4,4,4,5,4,4,4,4,4],
[4,4,0,0,3,3,9,1,3,3,9,5,4,0,0,7,3,5,5,4,5,9,8,9,4,6,5,6,4,8,9,5,4,9,8,4,5,0,0,0,4,6,6,4,4,5,5,5,0,4],
[2,2,5,5,6,6,5,3,3,5,9,9,9,9,3,5,2,0,0,5,5,0,4,9,1,5,5,5,9,4,4,4,5,9,8,3,9,9,5,5,2,3,3,3,4,5,5,4,4,4],
[9,8,8,8,9,6,8,6,5,7,7,5,9,5,9,9,4,5,0,8,8,6,5,0,1,4,5,6,5,3,4,5,7,6,3,5,5,5,4,8,5,8,9,6,5,6,4,5,4,4],
[4,4,4,2,4,8,3,5,3,3,3,4,5,4,5,5,4,0,0,4,5,5,5,0,1,5,5,4,4,4,4,5,5,5,4,2,5,5,5,4,4,5,5,5,5,5,6,4,5,4],
[5,5,5,0,5,0,5,7,5,2,5,0,0,5,2,5,2,4,2,5,0,0,0,0,0,1,0,0,0,5,0,5,1,0,0,6,5,5,5,5,0,0,1,0,2,5,3,3,0,3],
[5,6,5,0,5,8,3,5,7,8,7,9,5,4,8,6,8,5,6,9,9,9,9,8,9,8,9,9,5,3,9,9,7,5,5,5,5,4,8,6,6,6,6,7,9,9,8,4,6,5],
[1,1,3,3,5,5,0,0,5,4,5,5,2,3,0,5,5,2,2,2,2,9,0,5,5,5,4,5,0,3,3,3,3,4,4,4,4,5,5,5,5,5,5,5,5,8,0,2,1,3],
[5,5,4,4,4,5,0,8,5,5,5,5,5,0,0,5,5,1,6,6,5,8,5,0,5,5,5,5,8,5,4,3,3,6,5,5,5,5,5,5,5,5,5,5,5,5,9,8,7,6],
[5,7,6,6,9,5,5,7,8,5,0,5,5,4,8,5,6,4,5,5,9,1,6,6,5,3,4,5,5,4,4,4,3,4,3,3,5,5,6,5,5,5,4,5,5,5,4,5,5,5],
[4,5,0,5,5,4,3,5,5,4,3,5,3,4,4,3,5,8,0,4,9,0,0,5,6,6,5,5,5,5,4,9,3,5,5,5,8,3,4,5,3,5,4,4,5,4,4,5,4,4]
];

const svgNS = "http://www.w3.org/2000/svg";
const binColors = ["#053061","#2166ac","#4393c3","#92c5de","#d1e5f0","#fddbc7","#f4a582","#d6604d","#b2182b","#67001f"];
const lonMin = -98.316, lonMax = -97.816, latMin = 34.705, latMax = 35.055, cellDeg = 0.01;
const columnsX = [
  {x0:95, x1:528.5, bx0:543, bx1:582.5, lx:593.5},
  {x0:802.6, x1:1236.6, bx0:1255.8, bx1:1293.7, lx:1304.4},
  {x0:1509.7, x1:1944.6, bx0:1954.4, bx1:1995.7, lx:2006.7}
];
const rowsY = [
  {y0:54.5, y1:417.5, by0:56, by1:418, xl:464},
  {y0:558.5, y1:922.5, by0:560, by1:923, xl:969}
];
const panels = [
  {id:"a", values:stBefore, labels:stBarLabels, c:0, r:0},
  {id:"b", values:lhBefore, labels:fluxBarLabels, c:1, r:0},
  {id:"c", values:shBefore, labels:fluxBarLabels, c:2, r:0},
  {id:"d", values:stAfter, labels:stBarLabels, c:0, r:1},
  {id:"e", values:lhAfter, labels:fluxBarLabels, c:1, r:1},
  {id:"f", values:shAfter, labels:fluxBarLabels, c:2, r:1}
];
function make(tag, attrs, parent) {
  const el = document.createElementNS(svgNS, tag);
  for (const k in attrs) el.setAttribute(k, attrs[k]);
  parent.appendChild(el);
  return el;
}
function binColor(v) {
  return binColors[Math.max(0, Math.min(binColors.length - 1, Math.floor(v)))];
}
const root = document.getElementById("marks");
panels.forEach(function (p) {
  const cx = columnsX[p.c], ry = rowsY[p.r];
  const xScale = function (lon) { return cx.x0 + (lon - lonMin) / (lonMax - lonMin) * (cx.x1 - cx.x0); };
  const yScale = function (lat) { return ry.y0 + (latMax - lat) / (latMax - latMin) * (ry.y1 - ry.y0); };
  const barScale = function (t) { return ry.by0 + (1 - t) / 2 * (ry.by1 - ry.by0); };
  const g = make("g", {}, root);
  
  
  const bg = make("rect", {x:cx.x0, y:ry.y0, width:cx.x1-cx.x0, height:ry.y1-ry.y0, fill:"#d1e5f0"}, g);
  
  
  p.values.forEach(function (row, j) {
    row.forEach(function (v, i) {
      if (i >= 50) return;
      const lonL = lonMin + i * cellDeg, latT = latMax - j * cellDeg;
      const cell = make("rect", {x:xScale(lonL), y:yScale(latT), width:xScale(lonL+cellDeg)-xScale(lonL), height:yScale(latT-cellDeg)-yScale(latT), fill:binColor(v), "shape-rendering":"crispEdges"}, g);
      
      
    });
  });
  const pts = outlineLon.map(function (lon, i) { return xScale(lon).toFixed(1) + "," + yScale(outlineLat[i]).toFixed(1); }).join(" ");
  const outline = make("polyline", {points:pts, fill:"none", stroke:"#000", "stroke-width":3.4, "stroke-linejoin":"round"}, g);
  
  
  const frame = make("rect", {x:cx.x0, y:ry.y0, width:cx.x1-cx.x0, height:ry.y1-ry.y0, fill:"none", stroke:"#2b2b2b", "stroke-width":2.4}, g);
  
  
  lonTicks.forEach(function (lon) {
    const x = xScale(lon);
    const t1 = make("line", {x1:x, x2:x, y1:ry.y0, y2:ry.y0+12, stroke:"#222", "stroke-width":2}, g);
    
    
    const t2 = make("line", {x1:x, x2:x, y1:ry.y1, y2:ry.y1-11, stroke:"#222", "stroke-width":2}, g);
    
    
    const lab = make("text", {class:"tick", x:x, y:ry.xl, "text-anchor":"middle"}, g);
    
    
    lab.appendChild(document.createTextNode(lon.toFixed(1)));
    const sup = make("tspan", {class:"sup", dy:-12}, lab);
    sup.textContent = "o";
  });
  latTicks.forEach(function (lat) {
    const y = yScale(lat);
    const t1 = make("line", {x1:cx.x0, x2:cx.x0+13, y1:y, y2:y, stroke:"#222", "stroke-width":2}, g);
    
    
    const t2 = make("line", {x1:cx.x1, x2:cx.x1-11, y1:y, y2:y, stroke:"#222", "stroke-width":2}, g);
    
    
    const lab = make("text", {class:"tick", x:cx.x0-11, y:y+15, "text-anchor":"end"}, g);
    
    
    lab.appendChild(document.createTextNode(lat.toFixed(1)));
    const sup = make("tspan", {class:"sup", dy:-12}, lab);
    sup.textContent = "o";
  });
  binColors.forEach(function (col, b) {
    const n = binColors.length;
    const top = barScale((b + 1) / n * 2 - 1), bot = barScale(b / n * 2 - 1);
    const seg = make("rect", {x:cx.bx0, y:top, width:cx.bx1-cx.bx0, height:bot-top, fill:col, "shape-rendering":"crispEdges"}, g);
    
    
  });
  const barFrame = make("rect", {x:cx.bx0, y:ry.by0, width:cx.bx1-cx.bx0, height:ry.by1-ry.by0, fill:"none", stroke:"#666", "stroke-width":1}, g);
  
  
  p.labels.forEach(function (txt, i) {
    const y = barScale(barLabelValues[i]);
    const lab = make("text", {class:"cb", x:cx.lx, y:y+8.5}, g);
    
    
    lab.textContent = txt;
    const tk = make("line", {x1:cx.bx1-3, x2:cx.bx1, y1:y, y2:y, stroke:"#444", "stroke-width":1.5}, g);
    
    
  });
});
</script>
</body>
</html>
